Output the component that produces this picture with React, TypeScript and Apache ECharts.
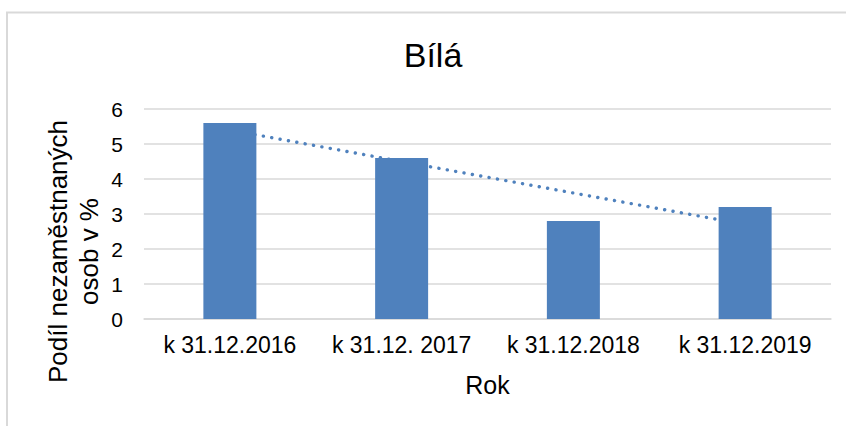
import React, { useEffect, useRef } from "react";
import * as echarts from "echarts";

const categories = ["k 31.12.2016", "k 31.12. 2017", "k 31.12.2018", "k 31.12.2019"];
const values = [5.6, 4.6, 2.8, 3.2];
const trendValues = [5.4, 4.5, 3.6, 2.7];
const yTicks = [0, 1, 2, 3, 4, 5, 6];

const FONT = "'Liberation Sans', Arial, sans-serif";
const BLUE = "#4f81bd";
const GRID = "#d9d9d9";

export default function App() {
  const ref = useRef<HTMLDivElement>(null);
  useEffect(() => {
    if (!ref.current) return;
    const chart = echarts.init(ref.current, null, { renderer: "svg" });
    chart.setOption({
      animation: false,
      backgroundColor: "#ffffff",
      textStyle: { fontFamily: FONT },
      grid: { left: 144, right: 15, top: 109, bottom: 107, containLabel: false },
      xAxis: {
        type: "category",
        data: categories,
        axisLine: { show: true, lineStyle: { color: GRID, width: 1.5 } },
        axisTick: { show: false },
        axisLabel: { color: "#000", fontSize: 23, fontFamily: FONT, margin: 14, interval: 0, hideOverlap: false },
        name: "Rok",
        nameLocation: "middle",
        nameGap: 53,
        nameTextStyle: { color: "#000", fontSize: 25, fontFamily: FONT },
      },
      yAxis: {
        type: "value",
        min: yTicks[0],
        max: yTicks[yTicks.length - 1],
        interval: 1,
        axisLine: { show: false },
        axisTick: { show: false },
        axisLabel: { color: "#000", fontSize: 21, fontFamily: FONT, margin: 21 },
        splitLine: { lineStyle: { color: GRID, width: 1.5 } },
      },
      series: [
        {
          type: "line",
          data: trendValues,
          symbol: "none",
          z: 1,
          lineStyle: { color: BLUE, width: 3.4, type: [0.1, 8.4], cap: "round" },
        },
        {
          type: "bar",
          data: values,
          barWidth: 53,
          z: 3,
          itemStyle: { color: BLUE },
        },
      ],
      graphic: [
        {
          type: "rect",
          shape: { x: 7, y: 12.5, width: 900, height: 500 },
          style: { fill: "none", stroke: GRID, lineWidth: 2 },
          silent: true,
        },
        {
          type: "text",
          x: 433,
          y: 55,
          style: {
            text: "Bílá",
            fill: "#000",
            font: `34px ${FONT}`,
            align: "center",
            verticalAlign: "middle",
          },
        },
        {
          type: "text",
          x: 73,
          y: 251.5,
          rotation: Math.PI / 2,
          style: {
            text: "Podíl nezaměstnaných\nosob v %",
            fill: "#000",
            font: `26px ${FONT}`,
            lineHeight: 31,
            align: "center",
            verticalAlign: "middle",
          },
        },
      ],
    });
    return () => chart.dispose();
  }, []);
  return (
    <div
      ref={ref}
      style={{ position: "fixed", left: 0, top: 0, width: 846, height: 426 }}
    />
  );
}
